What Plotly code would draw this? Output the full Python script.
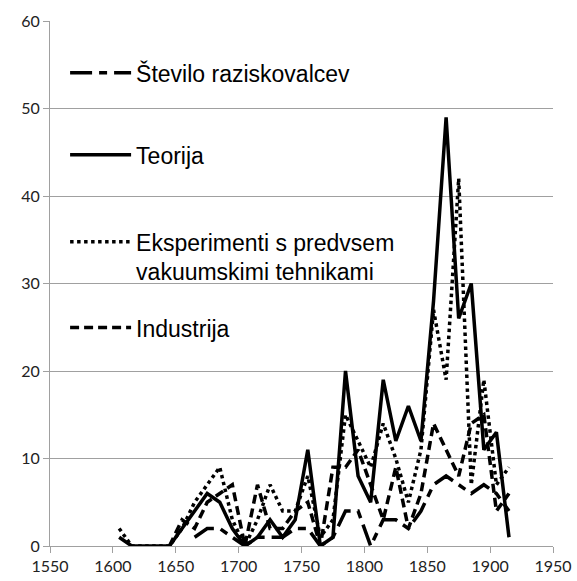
import plotly.graph_objects as go

years = [1605, 1615, 1625, 1635, 1645, 1655, 1665, 1675, 1685, 1695,
         1705, 1715, 1725, 1735, 1745, 1755, 1765, 1775, 1785, 1795,
         1805, 1815, 1825, 1835, 1845, 1855, 1865, 1875, 1885, 1895,
         1905, 1915]

stevilo = [None, None, None, None, None, None, 1, 2, 2, 1,
           0, 1, 1, 1, 2, 2, 0, 1, 4, 4,
           0, 3, 3, 2, 4, 7, 8, 7, 6, 7,
           6, 4]

teorija = [1, 0, 0, 0, 0, 2, 4, 6, 5, 2,
           0, 1, 3, 1, 3, 11, 0, 1, 20, 8,
           5, 19, 12, 16, 12, 28, 49, 26, 30, 11,
           13, 1]

eksperimenti = [2, 0, 0, 0, 0, 2, 5, 7, 9, 3,
                0, 3, 7, 4, 4, 8, 1, 3, 15, 12,
                9, 14, 10, 5, 11, 27, 19, 42, 7, 19,
                7, 9]

industrija = [None, None, None, None, 0, 3, 2, 5, 6, 7,
              0, 7, 2, 2, 4, 5, 0, 9, 9, 11,
              7, 3, 9, 2, 6, 14, 11, 8, 14, 15,
              4, 6]

names = ["Število raziskovalcev", "Teorija",
         "Eksperimenti s predvsem<br>vakuumskimi tehnikami", "Industrija"]

series = [stevilo, teorija, eksperimenti, industrija]
dashes = ["22px,7px,8px,7px", "solid", "dot", "9px,5px"]
legends = ["legend", "legend2", "legend3", "legend4"]

fig = go.Figure()
for name, vals, dash, lg in zip(names, series, dashes, legends):
    fig.add_trace(go.Scatter(
        x=years, y=vals, mode="lines", name=name,
        line=dict(color="black", width=3.5, dash=dash),
        legend=lg, connectgaps=False,
    ))

leg_font = dict(family="Liberation Sans, Arial, sans-serif", size=23, color="black")
common = dict(xanchor="left", yanchor="top", font=leg_font, itemwidth=61,
              bgcolor="rgba(0,0,0,0)", borderwidth=0, x=0.030)
fig.update_layout(
    width=577, height=581,
    margin=dict(l=50, r=24, t=21, b=35, autoexpand=False),
    paper_bgcolor="white", plot_bgcolor="white",
    showlegend=True,
    legend=dict(**common, y=0.9423),
    legend2=dict(**common, y=0.7862),
    legend3=dict(**common, y=0.6206, valign="top"),
    legend4=dict(**common, y=0.4569),
    font=dict(family="Lato, sans-serif", size=16, color="#222"),
)
fig.update_xaxes(range=[1550, 1950], dtick=50, tick0=1550, showgrid=False,
                 showline=True, linecolor="#a0a0a0", linewidth=1,
                 ticks="outside", ticklen=6, tickcolor="#a0a0a0", automargin=False,
                 zeroline=False, tickfont=dict(family="Lato", size=16, color="#222"))
fig.update_yaxes(range=[0, 60], dtick=10, showgrid=True, gridcolor="#a0a0a0",
                 gridwidth=1, showline=True, linecolor="#a0a0a0", linewidth=1,
                 ticks="outside", ticklen=6, tickcolor="#a0a0a0", automargin=False,
                 zeroline=False, tickfont=dict(family="Lato", size=16, color="#222"))

fig.write_html("out.html", config={"displayModeBar": False},
               post_script="document.body.style.margin='0';document.body.style.overflow='hidden';")
